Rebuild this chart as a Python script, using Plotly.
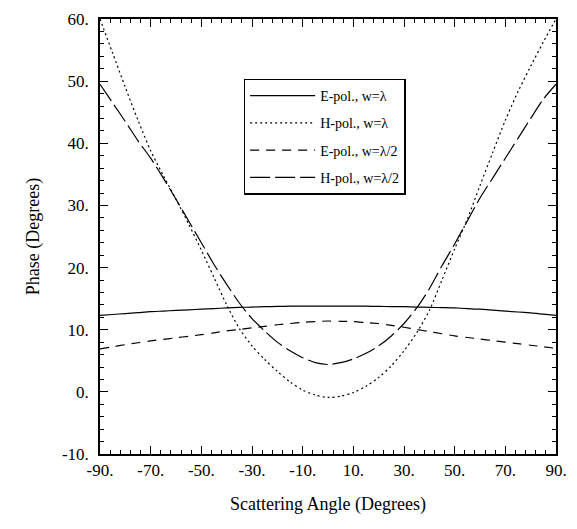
import plotly.graph_objects as go

angles = [-90, -85, -80, -75, -70, -65, -60, -55, -50, -45, -40, -35, -30, -25, -20, -15, -10, -5,
          0, 5, 10, 15, 20, 25, 30, 35, 40, 45, 50, 55, 60, 65, 70, 75, 80, 85, 90]

e_pol_w1 = [12.3, 12.45, 12.6, 12.75, 12.9, 13.0, 13.1, 13.2, 13.3, 13.4, 13.5, 13.58, 13.65, 13.7, 13.75, 13.78, 13.8, 13.8,
            13.8, 13.8, 13.8, 13.78, 13.75, 13.72, 13.7, 13.65, 13.6, 13.55, 13.5, 13.4, 13.3, 13.15, 13.0, 12.85, 12.7, 12.5, 12.3]

h_pol_w1 = [60.0, 54.5, 49.0, 43.7, 38.8, 34.8, 31.0, 27.0, 22.8, 18.4, 14.0, 10.2, 7.4, 5.2, 3.3, 1.6, 0.3, -0.5,
            -0.9, -0.7, -0.1, 0.9, 2.3, 4.2, 6.6, 9.5, 13.1, 18.0, 23.0, 27.8, 33.2, 38.5, 43.7, 48.3, 52.4, 56.3, 60.0]

e_pol_w2 = [6.9, 7.25, 7.6, 7.9, 8.2, 8.45, 8.7, 8.95, 9.2, 9.5, 9.8, 10.05, 10.3, 10.55, 10.8, 11.0, 11.2, 11.3,
            11.4, 11.35, 11.3, 11.15, 11.0, 10.7, 10.4, 10.05, 9.7, 9.35, 9.0, 8.75, 8.5, 8.25, 8.0, 7.75, 7.5, 7.25, 7.0]

h_pol_w2 = [49.5, 46.5, 43.5, 40.4, 37.6, 34.4, 31.0, 27.5, 24.0, 20.5, 17.3, 14.3, 11.8, 9.8, 8.0, 6.6, 5.5, 4.7,
            4.4, 4.7, 5.3, 6.2, 7.4, 9.0, 11.0, 13.5, 16.6, 20.3, 23.8, 27.5, 31.2, 34.4, 37.6, 40.8, 44.0, 47.1, 49.5]

names = ["E-pol., w=λ", "H-pol., w=λ", "E-pol., w=λ/2", "H-pol., w=λ/2"]
series = [e_pol_w1, h_pol_w1, e_pol_w2, h_pol_w2]
dashes = ["solid", "2px,3px", "9px,7px", "20px,5px"]

x_tickvals = [-90, -70, -50, -30, -10, 10, 30, 50, 70, 90]
x_ticktext = ["-90.", "-70.", "-50.", "-30.", "-10.", "10.", "30.", "50.", "70.", "90."]
y_tickvals = [-10, 0, 10, 20, 30, 40, 50, 60]
y_ticktext = ["-10.", "0.", "10.", "20.", "30.", "40.", "50.", "60."]

FONT = "Liberation Serif"

fig = go.Figure()
for i, (nm, ys, ds) in enumerate(zip(names, series, dashes)):
    fig.add_trace(go.Scatter(
        x=angles, y=ys, mode="lines", name=nm, legendgroup=f"g{i}",
        line=dict(color="black", width=1.2, dash=ds, shape="spline", smoothing=0.8),
    ))

axis_common = dict(
    showline=True, linecolor="black", linewidth=1.5, mirror="ticks",
    ticks="inside", ticklen=8, tickwidth=1.2, tickcolor="black",
    showgrid=False, zeroline=False,
    tickfont=dict(family=FONT, size=17, color="black"),
)

fig.update_xaxes(
    range=[-90, 90], tickmode="array", tickvals=x_tickvals, ticktext=x_ticktext,
    minor=dict(tickmode="linear", ticks="inside", ticklen=4, tickwidth=1, tickcolor="black",
               dtick=4, tick0=-90, showgrid=False),
    title=dict(text="Scattering Angle (Degrees)", font=dict(family=FONT, size=18, color="black"), standoff=18),
    **axis_common,
)
fig.update_yaxes(
    range=[-10, 60], tickmode="array", tickvals=y_tickvals, ticktext=y_ticktext,
    minor=dict(tickmode="linear", ticks="inside", ticklen=4, tickwidth=1, tickcolor="black",
               dtick=2, tick0=0, showgrid=False),
    title=dict(text="Phase (Degrees)", font=dict(family=FONT, size=18, color="black"), standoff=18),
    ticklabelstandoff=6,
    **axis_common,
)

fig.update_layout(
    width=577, height=529,
    margin=dict(l=100, r=17, t=10, b=75),
    paper_bgcolor="white", plot_bgcolor="white",
    font=dict(family=FONT, color="black"),
    showlegend=True,
    legend=dict(
        x=0.315, y=0.863, xanchor="left", yanchor="top",
        bgcolor="white", bordercolor="black", borderwidth=1.5,
        font=dict(family=FONT, size=14, color="black"),
        tracegroupgap=6, itemwidth=65,
    ),
)

fig.write_html("out.html")
